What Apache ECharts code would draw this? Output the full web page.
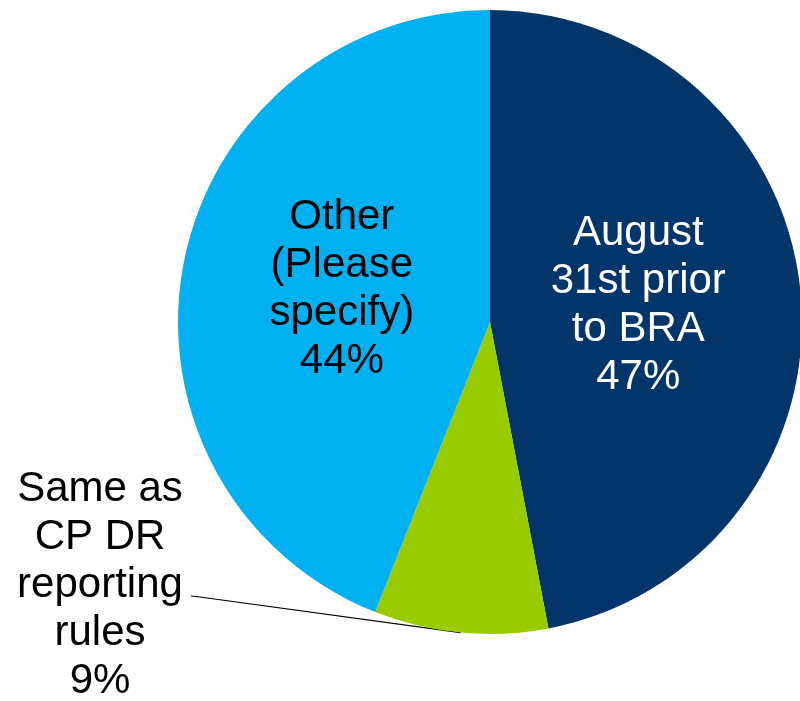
<!DOCTYPE html>
<html>
<head>
<meta charset="utf-8">
<script src="https://cdn.jsdelivr.net/npm/echarts@6/dist/echarts.min.js"></script>
<style>
  html, body { margin: 0; padding: 0; background: #fff; }
  #chart { width: 800px; height: 701px; }
</style>
</head>
<body>
<div id="chart"></div>
<script>
// slices, clockwise from 12 o'clock
const categories = ["August\n31st prior\nto BRA", "Same as\nCP DR\nreporting\nrules", "Other\n(Please\nspecify)"];
const shares = [47, 9, 44];

const palette = ["#03356A", "#99CC00", "#00B0F0"];
const labelColors = ["#fff", "#000", "#000"];

const chart = echarts.init(document.getElementById("chart"), null, { renderer: "canvas" });

const option = {
  animation: false,
  color: palette,
  series: [
    {
      type: "pie",
      center: [490, 322],
      radius: 312,
      startAngle: 90,
      clockwise: true,
      avoidLabelOverlap: false,
      label: {
        show: true,
        position: "inside",
        formatter: "{b}\n{c}%",
        fontFamily: "Liberation Sans, Arial, sans-serif",
        fontSize: 42,
        lineHeight: 48,
        align: "center",
      },
      labelLine: {
        show: true,
        length: 20,
        length2: 9,
        lineStyle: { color: "#000", width: 1.2 },
      },
      emphasis: { disabled: true },
      data: categories.map((name, i) => ({
        name: name,
        value: shares[i],
        label: {
          color: labelColors[i],
          position: i === 1 ? "outside" : "inside",
        },
        labelLine: { show: i === 1 },
      })),
      labelLayout: function (params) {
        if (params.dataIndex === 0) return { dx: -10, dy: -2 };
        if (params.dataIndex === 2) return { dx: 8, dy: -3 };
        // outside label for the small slice, sits to the lower left
        const cx = 100, cy = 585;
        const right = cx + params.labelRect.width / 2;
        const start = params.labelLinePoints ? params.labelLinePoints[0] : [460, 633];
        return {
          x: cx,
          y: cy,
          align: "center",
          verticalAlign: "middle",
          labelLinePoints: [start, [right + 17, cy + 12], [right + 8, cy + 11]],
        };
      },
    },
  ],
};

chart.setOption(option);
</script>
</body>
</html>
